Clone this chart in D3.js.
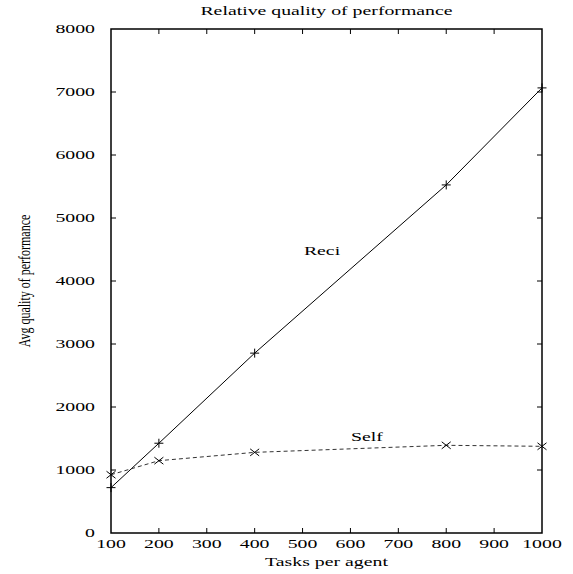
<!DOCTYPE html>
<html>
<head>
<meta charset="utf-8">
<script src="https://cdn.jsdelivr.net/npm/d3@7"></script>
<style>
  body { margin: 0; background: #fff; }
  text { font-family: "Liberation Serif", "Times New Roman", serif; font-size: 12px; fill: #000; }
</style>
</head>
<body>
<div id="chart"></div>
<script>
// datos
const tasks = [100, 200, 400, 800, 1000];
const reciValues = [720, 1425, 2855, 5525, 7065];
const selfValues = [925, 1148, 1280, 1392, 1376];
const xTicks = [100, 200, 300, 400, 500, 600, 700, 800, 900, 1000];
const yTicks = [0, 1000, 2000, 3000, 4000, 5000, 6000, 7000, 8000];

const width = 573, height = 574;
const margin = { top: 29, right: 31, bottom: 41, left: 111 };
const stretch = 1.65; // el texto original esta estirado en horizontal

const svg = d3.select("#chart").append("svg")
  .attr("width", width)
  .attr("height", height);

const x = d3.scaleLinear().domain([100, 1000]).range([margin.left, width - margin.right]);
const y = d3.scaleLinear().domain([0, 8000]).range([height - margin.bottom, margin.top]);

const tickLen = 5;

// marco
svg.append("rect")
  .attr("x", x(100)).attr("y", y(8000))
  .attr("width", x(1000) - x(100)).attr("height", y(0) - y(8000))
  .attr("fill", "none").attr("stroke", "#000").attr("stroke-width", 1.5);

// marcas hacia dentro en los cuatro lados
const ticks = svg.append("g").attr("stroke", "#000").attr("stroke-width", 1);
xTicks.slice(1, -1).forEach(v => {
  ticks.append("line").attr("x1", x(v)).attr("x2", x(v)).attr("y1", y(0)).attr("y2", y(0) - tickLen);
  ticks.append("line").attr("x1", x(v)).attr("x2", x(v)).attr("y1", y(8000)).attr("y2", y(8000) + tickLen);
});
yTicks.slice(1, -1).forEach(v => {
  ticks.append("line").attr("x1", x(100)).attr("x2", x(100) + tickLen).attr("y1", y(v)).attr("y2", y(v));
  ticks.append("line").attr("x1", x(1000)).attr("x2", x(1000) - tickLen).attr("y1", y(v)).attr("y2", y(v));
});

// texto estirado
function stretchedText(px, py, str, anchor) {
  return svg.append("text")
    .attr("transform", `translate(${px},${py}) scale(${stretch},1)`)
    .attr("text-anchor", anchor || "middle")
    .text(str);
}

xTicks.forEach(v => stretchedText(x(v), y(0) + 15, v));
yTicks.forEach(v => stretchedText(x(100) - 16, y(v) + 4, v, "end"));

stretchedText((x(100) + x(1000)) / 2, 15, "Relative quality of performance");
stretchedText((x(100) + x(1000)) / 2, 566, "Tasks per agent");

svg.append("text")
  .attr("transform", `translate(30,${(y(0) + y(8000)) / 2}) scale(1.4,1) rotate(-90)`)
  .attr("text-anchor", "middle")
  .text("Avg quality of performance");

// lineas
const line = d3.line().x(d => x(d[0])).y(d => y(d[1]));

svg.append("path")
  .datum(tasks.map((t, i) => [t, reciValues[i]]))
  .attr("d", line)
  .attr("fill", "none").attr("stroke", "#000").attr("stroke-width", 1);

svg.append("path")
  .datum(tasks.map((t, i) => [t, selfValues[i]]))
  .attr("d", line)
  .attr("fill", "none").attr("stroke", "#333").attr("stroke-width", 1)
  .attr("stroke-dasharray", "4,3");

// marcadores
const m = 4.5;
tasks.forEach((t, i) => {
  const cx = x(t), cy = y(reciValues[i]);
  svg.append("path")
    .attr("d", `M${cx - m},${cy}H${cx + m}M${cx},${cy - m}V${cy + m}`)
    .attr("stroke", "#000").attr("stroke-width", 1);
  const sx = x(t), sy = y(selfValues[i]), k = 3.5;
  svg.append("path")
    .attr("d", `M${sx - k - 1},${sy - k}L${sx + k + 1},${sy + k}M${sx - k - 1},${sy + k}L${sx + k + 1},${sy - k}`)
    .attr("stroke", "#000").attr("stroke-width", 1);
});

// etiquetas de las series
stretchedText(322, 255, "Reci");
stretchedText(367, 441, "Self");
</script>
</body>
</html>
